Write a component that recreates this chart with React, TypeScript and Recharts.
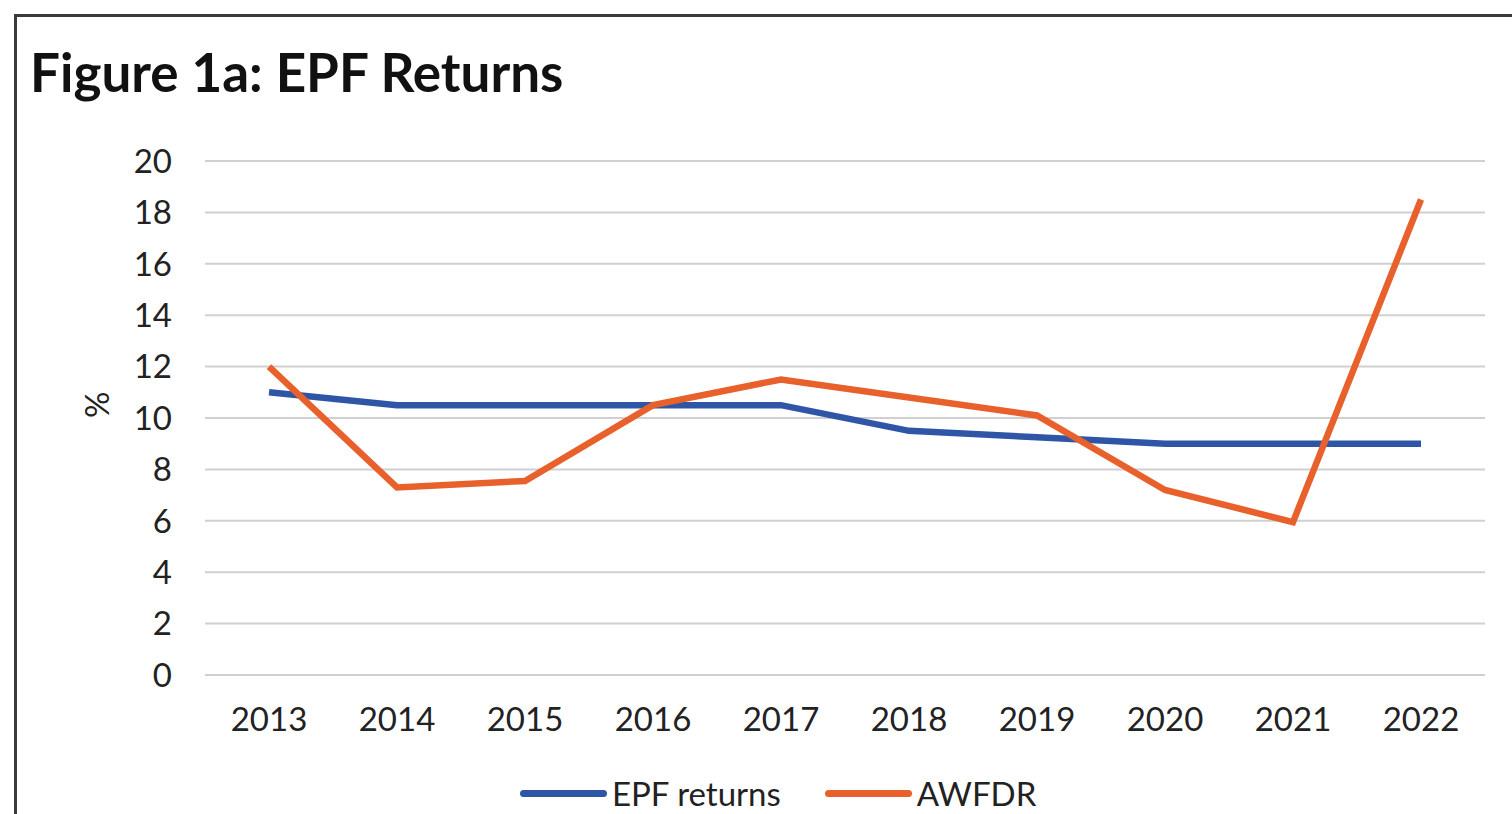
import { LineChart, Line, XAxis, YAxis, CartesianGrid, Label } from 'recharts';

const YEARS = ['2013', '2014', '2015', '2016', '2017', '2018', '2019', '2020', '2021', '2022'];
const EPF_RETURNS = [11.0, 10.5, 10.5, 10.5, 10.5, 9.5, 9.25, 9.0, 9.0, 9.0];
const AWFDR = [12.0, 7.3, 7.55, 10.5, 11.5, 10.8, 10.1, 7.2, 5.95, 18.5];
const Y_TICKS = [0, 2, 4, 6, 8, 10, 12, 14, 16, 18, 20];

const SERIES = [
  { key: 'epf', name: 'EPF returns', color: '#2f56a6' },
  { key: 'awfdr', name: 'AWFDR', color: '#e8612c' },
];

const FONT = 'Lato, "Open Sans", sans-serif';

export default function App() {
  const data = YEARS.map((year, i) => ({ year, epf: EPF_RETURNS[i], awfdr: AWFDR[i] }));

  return (
    <div style={{ position: 'absolute', left: 0, top: 0, width: 1512, height: 814, overflow: 'hidden', background: '#fff', fontFamily: FONT }}>
      {/* frame of the original figure, cut off at right and bottom */}
      <div style={{ position: 'absolute', left: 14, top: 14, width: 1600, height: 900, borderTop: '3px solid #3a3a3a', borderLeft: '3px solid #3a3a3a' }} />
      <div style={{ position: 'absolute', left: 30, top: 40, fontSize: 53, lineHeight: '64px', fontWeight: 700, color: '#111' }}>
        Figure 1a: EPF Returns
      </div>

      <div style={{ position: 'absolute', left: 0, top: 0 }}>
        <LineChart width={1512} height={814} data={data} margin={{ top: 161, right: 27, left: 0, bottom: 79 }}>
          <CartesianGrid vertical={false} stroke="#d0d0d0" strokeWidth={2} />
          <XAxis
            dataKey="year"
            height={60}
            padding={{ left: 64, right: 64 }}
            axisLine={false}
            tickLine={false}
            tickMargin={27}
            tick={{ fontSize: 33, fill: '#222', fontFamily: FONT }}
          />
          <YAxis
            width={205}
            domain={[0, 20]}
            ticks={Y_TICKS}
            axisLine={false}
            tickLine={false}
            tickMargin={27}
            tick={{ fontSize: 33, fill: '#222', fontFamily: FONT }}
          >
            <Label value="%" angle={-90} position="insideLeft" offset={97} style={{ fontSize: 33, fill: '#222', fontFamily: FONT }} />
          </YAxis>
          {SERIES.map(s => (
            <Line
              key={s.key}
              type="linear"
              dataKey={s.key}
              name={s.name}
              stroke={s.color}
              strokeWidth={6.5}
              dot={false}
              isAnimationActive={false}
            />
          ))}
        </LineChart>
      </div>

      <div style={{ position: 'absolute', left: 520, top: 774, display: 'flex', alignItems: 'center', gap: 44 }}>
        {SERIES.map(s => (
          <div key={s.key} style={{ display: 'flex', alignItems: 'center', gap: 5 }}>
            <div style={{ width: 87, height: 7, borderRadius: 4, background: s.color }} />
            <span style={{ fontSize: 33, color: '#222', lineHeight: '38px' }}>{s.name}</span>
          </div>
        ))}
      </div>
    </div>
  );
}
